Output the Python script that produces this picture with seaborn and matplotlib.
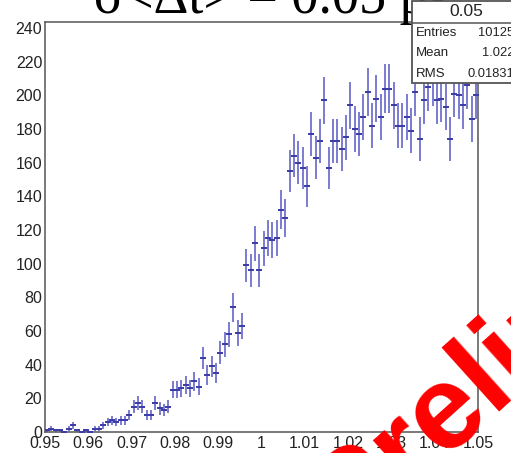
import numpy as np
import pandas as pd
import seaborn as sns
import matplotlib
matplotlib.use("Agg")
import matplotlib.pyplot as plt
from matplotlib.patches import Rectangle
from matplotlib.lines import Line2D
from matplotlib.ticker import MultipleLocator, FuncFormatter

# Histogram: 100 bins between 0.95 and 1.05
x_lo, x_hi, n_bins = 0.95, 1.05, 100
counts = [
    1, 2, 1, 1, 0, 2, 4, 1, 0, 1,
    0, 2, 2, 4, 6, 7, 6, 7, 7, 10,
    15, 17, 15, 10, 10, 17, 14, 13, 15, 25,
    25, 26, 28, 26, 30, 27, 44, 34, 39, 35,
    47, 52, 58, 74, 59, 63, 99, 96, 112, 96,
    109, 115, 114, 115, 132, 127, 155, 164, 160, 157,
    146, 177, 163, 173, 197, 157, 173, 173, 168, 175,
    194, 180, 177, 187, 202, 182, 198, 187, 204, 204,
    194, 182, 182, 187, 179, 202, 174, 197, 205, 208,
    197, 198, 193, 174, 201, 200, 194, 206, 186, 200,
]
hist_name = "0.05"
title_text = "σ<Δt> = 0.05 ps"
stat_names = ["Entries", "Mean", "RMS"]
stat_values = ["10125", "1.022", "0.01831"]
x_ticks = [0.95, 0.96, 0.97, 0.98, 0.99, 1.00, 1.01, 1.02, 1.03, 1.04, 1.05]
y_ticks = [0, 20, 40, 60, 80, 100, 120, 140, 160, 180, 200, 220, 240]

edges = np.linspace(x_lo, x_hi, n_bins + 1)
half_w = (x_hi - x_lo) / n_bins / 2
df = pd.DataFrame({"x": edges[:-1] + half_w, "n": counts})
df["err"] = np.sqrt(df["n"])

sns.set_theme(style="white")
plt.rcParams["font.family"] = ["Liberation Sans", "DejaVu Sans"]

W, H = 511, 453
fig = plt.figure(figsize=(W / 100, H / 100), dpi=100)
fig.patch.set_facecolor("white")
ax = fig.add_axes([45 / W, 1 - 432 / H, (478 - 45) / W, (432 - 22) / H])

line_col = "#5a5ac6"
ax.errorbar(df["x"], df["n"], xerr=half_w, yerr=df["err"], fmt="none",
            ecolor=line_col, elinewidth=1.4, capsize=0, alpha=0.8)
sns.scatterplot(data=df, x="x", y="n", ax=ax, marker="_", s=14,
                color="#3c3ca8", linewidth=1.4, legend=False, zorder=3)

ax.set_xlim(x_lo, x_hi)
ax.set_ylim(0, 243.5)
ax.set_xlabel("")
ax.set_ylabel("")
ax.set_xticks(x_ticks)
ax.set_yticks(y_ticks)
ax.xaxis.set_major_formatter(FuncFormatter(lambda v, p: f"{v:g}"))
ax.xaxis.set_minor_locator(MultipleLocator(0.002))
ax.yaxis.set_minor_locator(MultipleLocator(5))
ax.tick_params(axis="both", which="both", direction="in", top=False,
               right=False, colors="#555555", labelcolor="#222222",
               labelsize=11.5, width=1.0)
ax.tick_params(axis="x", which="major", length=12, pad=3)
ax.tick_params(axis="x", which="minor", length=6)
ax.tick_params(axis="y", which="major", length=10, pad=2)
ax.tick_params(axis="y", which="minor", length=5)
for s in ax.spines.values():
    s.set_color("#555555")
    s.set_linewidth(1.1)

# Title, clipped by the top edge of the canvas
fig.text(271 / W, 1 - 13 / H, title_text, ha="center", va="baseline",
         fontsize=39, family=["Liberation Serif", "DejaVu Serif"], color="black")

# Statistics box in the upper right corner
bx0, by1 = 412, 83
fig.add_artist(Rectangle((bx0 / W, 1 - by1 / H), 130 / W, (by1 - 1) / H,
                         transform=fig.transFigure, facecolor="white",
                         edgecolor="#555555", lw=1.3, zorder=5))
fig.add_artist(Line2D([bx0 / W, 1], [1 - 23 / H, 1 - 23 / H],
                      transform=fig.transFigure, color="#555555", lw=1.1, zorder=6))
fig.text(466 / W, 1 - 12 / H, hist_name, ha="center", va="center",
         fontsize=12.5, color="#222222", zorder=7)
for i, (nm, val) in enumerate(zip(stat_names, stat_values)):
    yy = 1 - (33 + 20.5 * i) / H
    fig.text(416 / W, yy, nm, ha="left", va="center", fontsize=9.5,
             color="#222222", zorder=7)
    fig.text(514 / W, yy, val, ha="right", va="center", fontsize=9.3,
             color="#222222", zorder=7)

# Red watermark across the lower right corner
fig.text(348 / W, 1 - 540 / H, "Preliminary", rotation=42,
         rotation_mode="anchor", ha="left", va="baseline", fontsize=86,
         fontweight="bold", color="#ff0000", zorder=8)

fig.savefig("out.png", dpi=100)
